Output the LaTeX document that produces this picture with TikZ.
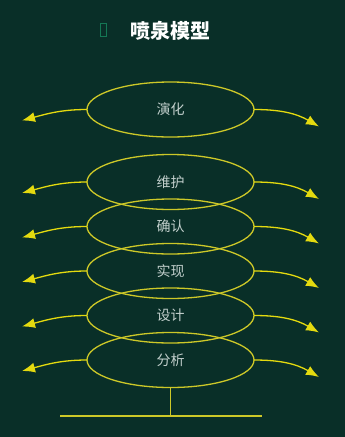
\documentclass[tikz,border=0pt]{standalone}
\usepackage{fontspec}
\setmainfont{Noto Sans CJK SC}
\usetikzlibrary{shapes.geometric,arrows.meta,positioning}

\definecolor{board}{RGB}{9,47,40}
\definecolor{ringline}{RGB}{205,200,40}
\definecolor{spoutline}{RGB}{228,218,15}
\definecolor{stagetext}{RGB}{195,208,205}
\definecolor{markgreen}{RGB}{20,120,85}

\begin{document}
\begin{tikzpicture}[x=1pt, y=1pt,
  stage/.style ={ellipse, draw=ringline, line width=1.3pt, outer sep=0pt,
                 minimum width=167pt, minimum height=55pt, inner sep=0pt,
                 text=stagetext, font=\fontsize{14}{15}\selectfont},
  heading/.style={text=white, font=\bfseries\fontsize{20}{22}\selectfont},
  spout/.style ={-{Latex[length=13pt,width=10pt]}, line width=1.3pt,
                 spoutline},
  stem/.style  ={line width=1.3pt, ringline},
]
\useasboundingbox (0,0) rectangle (345,-437);
\fill[board] (0,0) rectangle (345,-437);

% === Title ===
\node[heading] (title) at (170,-31) {喷泉模型};
\node[draw=markgreen, line width=0.9pt, minimum width=6pt,
      minimum height=13pt, inner sep=0pt] (mark) at (103.5,-30) {};

% === Stages (bottom up) ===
\node[stage] (fenxi) at (170.5,-360) {分析};
\node[stage, above=-10.5pt of fenxi] (sheji) {设计};
\node[stage, above=-10.5pt of sheji] (shixian) {实现};
\node[stage, above=-10.5pt of shixian] (queren) {确认};
\node[stage, above=-10.5pt of queren] (weihu) {维护};
\node[stage, above=17.5pt of weihu] (yanhua) {演化};

% === Spout ends ===
\coordinate[below left=11pt and 65pt of yanhua.west] (yanhuaL);
\coordinate[below right=17pt and 65pt of yanhua.east] (yanhuaR);
\coordinate[below left=11pt and 65pt of weihu.west] (weihuL);
\coordinate[below right=17pt and 65pt of weihu.east] (weihuR);
\coordinate[below left=11pt and 65pt of queren.west] (querenL);
\coordinate[below right=17pt and 65pt of queren.east] (querenR);
\coordinate[below left=11pt and 65pt of shixian.west] (shixianL);
\coordinate[below right=17pt and 65pt of shixian.east] (shixianR);
\coordinate[below left=11pt and 65pt of sheji.west] (shejiL);
\coordinate[below right=17pt and 65pt of sheji.east] (shejiR);
\coordinate[below left=11pt and 65pt of fenxi.west] (fenxiL);
\coordinate[below right=17pt and 65pt of fenxi.east] (fenxiR);

% === Spouts ===
\draw[spout] (yanhua.west) to[out=180,in=15] (yanhuaL);
\draw[spout] (yanhua.east) to[out=0,in=150] (yanhuaR);
\draw[spout] (weihu.west) to[out=180,in=15] (weihuL);
\draw[spout] (weihu.east) to[out=0,in=150] (weihuR);
\draw[spout] (queren.west) to[out=180,in=15] (querenL);
\draw[spout] (queren.east) to[out=0,in=150] (querenR);
\draw[spout] (shixian.west) to[out=180,in=15] (shixianL);
\draw[spout] (shixian.east) to[out=0,in=150] (shixianR);
\draw[spout] (sheji.west) to[out=180,in=15] (shejiL);
\draw[spout] (sheji.east) to[out=0,in=150] (shejiR);
\draw[spout] (fenxi.west) to[out=180,in=15] (fenxiL);
\draw[spout] (fenxi.east) to[out=0,in=150] (fenxiR);

% === Base ===
\coordinate[below=28pt of fenxi.south] (stemfoot);
\coordinate (baseL) at (60,-416);
\coordinate (baseR) at (262,-416);
\draw[stem] (fenxi.south) -- (stemfoot);
\draw[stem] (baseL) -- (baseR);

\end{tikzpicture}
\end{document}
